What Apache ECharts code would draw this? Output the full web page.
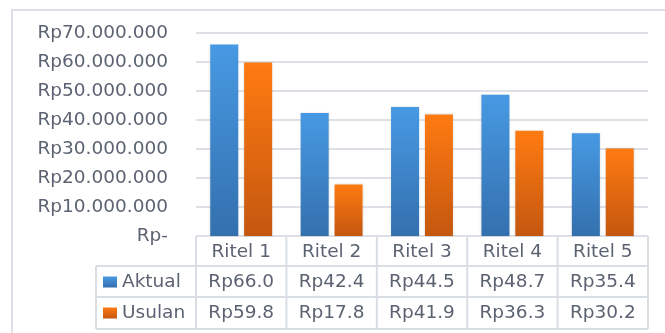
<!DOCTYPE html>
<html>
<head>
<meta charset="utf-8">
<script src="https://cdn.jsdelivr.net/npm/echarts@6/dist/echarts.min.js"></script>
<style>
html,body{margin:0;padding:0;background:#fff;}
#chart{width:665px;height:333px;}
</style>
</head>
<body>
<div id="chart"></div>
<script>
// ---- data ----
var categories = ['Ritel 1', 'Ritel 2', 'Ritel 3', 'Ritel 4', 'Ritel 5'];
var seriesNames = ['Aktual', 'Usulan'];
var aktual = [66000000, 42400000, 44500000, 48700000, 35400000];
var usulan = [59800000, 17800000, 41900000, 36300000, 30200000];
var yTicks = [0, 10000000, 20000000, 30000000, 40000000, 50000000, 60000000, 70000000];

// ---- helpers ----
function fmtAxis(v) {
  if (v === 0) return 'Rp-';
  return 'Rp' + String(Math.round(v)).replace(/\B(?=(\d{3})+(?!\d))/g, '.');
}
function fmtTable(v) { return 'Rp' + (v / 1e6).toFixed(1); }

var FONT = 'DejaVu Sans';
var TXT = '#5b6372';
var LINE = '#d9dee5';

var G = { left: 196, right: 17, top: 33, bottom: 97 };
var W = 665, H = 333;

var chart = echarts.init(document.getElementById('chart'), null, { renderer: 'canvas' });

function grad(top, bottom) {
  return new echarts.graphic.LinearGradient(0, 0, 0, 1, [
    { offset: 0, color: top }, { offset: 1, color: bottom }
  ]);
}

function tableGraphics() {
  var gl = G.left, gr = W - G.right;
  var cw = (gr - gl) / categories.length;
  var y0 = H - G.bottom, y1 = y0 + 30, y2 = y1 + 31, y3 = y2 + 32;
  var x0 = 96;
  var els = [];
  function line(xa, ya, xb, yb) {
    els.push({ type: 'line', shape: { x1: xa, y1: ya, x2: xb, y2: yb },
      style: { stroke: LINE, lineWidth: 2 }, silent: true });
  }
  // outer chart border
  els.push({ type: 'rect', shape: { x: 12, y: 10, width: 660, height: 340 },
    style: { fill: null, stroke: '#dde1e7', lineWidth: 2 }, silent: true });
  line(gl, y0, gr, y0);
  line(x0, y1, gr, y1);
  line(x0, y2, gr, y2);
  line(x0, y3, gr, y3);
  line(x0, y1, x0, y3);
  for (var i = 0; i <= categories.length; i++) {
    line(gl + i * cw, y0, gl + i * cw, y3);
  }
  return els;
}

var option = {
  animation: false,
  backgroundColor: '#fff',
  textStyle: { fontFamily: FONT },
  grid: { left: G.left, right: G.right, top: G.top, bottom: G.bottom, containLabel: false },
  legend: {
    data: seriesNames,
    orient: 'vertical',
    left: 103, top: 272,
    padding: 0,
    itemWidth: 14, itemHeight: 11,
    itemGap: 11,
    icon: 'rect',
    textStyle: { fontFamily: FONT, fontSize: 18.5, color: TXT, lineHeight: 20 }
  },
  xAxis: [
    { type: 'category', data: categories, position: 'bottom', gridIndex: 0,
      axisLine: { show: false }, axisTick: { show: false },
      axisLabel: { interval: 0, margin: 16, verticalAlign: 'middle', fontSize: 18.5, color: TXT, fontFamily: FONT } },
    { type: 'category', data: aktual.map(fmtTable), position: 'bottom', gridIndex: 0,
      axisLine: { show: false }, axisTick: { show: false },
      axisLabel: { interval: 0, margin: 46, verticalAlign: 'middle', fontSize: 18.5, color: TXT, fontFamily: FONT } },
    { type: 'category', data: usulan.map(fmtTable), position: 'bottom', gridIndex: 0,
      axisLine: { show: false }, axisTick: { show: false },
      axisLabel: { interval: 0, margin: 77, verticalAlign: 'middle', fontSize: 18.5, color: TXT, fontFamily: FONT } }
  ],
  yAxis: {
    type: 'value',
    min: yTicks[0], max: yTicks[yTicks.length - 1], interval: yTicks[1] - yTicks[0],
    axisLine: { show: false }, axisTick: { show: false },
    splitLine: { lineStyle: { color: '#dde1e7', width: 2 } },
    axisLabel: { formatter: fmtAxis, fontSize: 18.5, color: TXT, fontFamily: FONT, margin: 28 }
  },
  series: [
    { name: seriesNames[0], type: 'bar', data: aktual, xAxisIndex: 0,
      barWidth: 28, barGap: '21%',
      itemStyle: { color: grad('#4799e3', '#3470ae'), shadowColor: 'rgba(0,0,0,0.15)', shadowBlur: 2 } },
    { name: seriesNames[1], type: 'bar', data: usulan, xAxisIndex: 0,
      barWidth: 28,
      itemStyle: { color: grad('#ff7b12', '#c4570f'), shadowColor: 'rgba(0,0,0,0.15)', shadowBlur: 2 } }
  ],
  graphic: tableGraphics()
};
chart.setOption(option);
</script>
</body>
</html>
